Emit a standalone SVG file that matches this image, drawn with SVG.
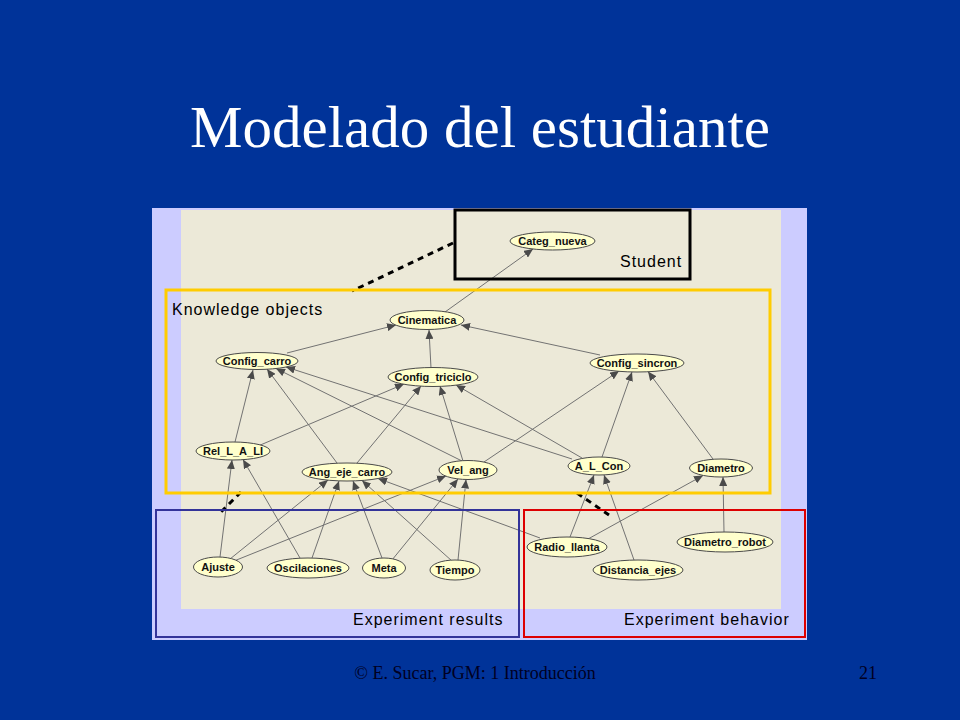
<svg xmlns="http://www.w3.org/2000/svg" width="960" height="720" viewBox="0 0 960 720">
<defs>
<style>
.title{font-family:"Liberation Serif","Times New Roman",serif;font-size:59px;fill:#ffffff}
.foot{font-family:"Liberation Serif","Times New Roman",serif;font-size:18px;fill:#000022}
.box{fill:none}
.blabel{font-family:"Liberation Sans",Arial,sans-serif;font-size:16px;letter-spacing:1px;fill:#000000}
.node ellipse{fill:#ffffcc;stroke:#4a4a4a;stroke-width:1}
.node text{font-family:"Liberation Sans",Arial,sans-serif;font-size:11px;font-weight:bold;fill:#111111;text-anchor:middle}
.edge{stroke:#727272;stroke-width:1;fill:none;marker-end:url(#arr)}
.dash{stroke:#000000;stroke-width:3;stroke-dasharray:6 5;fill:none}
</style>
<marker id="arr" markerUnits="userSpaceOnUse" markerWidth="10" markerHeight="8" refX="9" refY="4" orient="auto">
<path d="M0,0 L9,4 L0,8 z" fill="#4a4a4a"/>
</marker>
</defs>
<rect x="0" y="0" width="960" height="720" fill="#003399"/>
<text class="title" x="480" y="147" text-anchor="middle">Modelado del estudiante</text>
<g id="panel">
<rect x="152" y="208" width="655" height="432" fill="#ccccff"/>
<rect x="181" y="210" width="600" height="399" fill="#ece9d8"/>
</g>
<g id="connectors">
<line class="edge" x1="445" y1="312" x2="533" y2="249"/>
<line class="edge" x1="287" y1="353" x2="396" y2="325"/>
<line class="edge" x1="431" y1="368" x2="429" y2="330"/>
<line class="edge" x1="600" y1="355" x2="461" y2="325"/>
<line class="edge" x1="235" y1="442" x2="253" y2="370"/>
<line class="edge" x1="258" y1="446" x2="404" y2="384"/>
<line class="edge" x1="337" y1="463" x2="267" y2="369"/>
<line class="edge" x1="357" y1="463" x2="421" y2="386"/>
<line class="edge" x1="462" y1="461" x2="276" y2="368.5"/>
<line class="edge" x1="463" y1="461" x2="440" y2="386"/>
<line class="edge" x1="484" y1="462" x2="619" y2="371"/>
<line class="edge" x1="572" y1="459" x2="286" y2="367"/>
<line class="edge" x1="582" y1="458" x2="456" y2="385"/>
<line class="edge" x1="602" y1="457" x2="632" y2="372"/>
<line class="edge" x1="713" y1="459" x2="648" y2="371.5"/>
<line class="edge" x1="220" y1="557" x2="232" y2="460"/>
<line class="edge" x1="300" y1="558" x2="243" y2="459.5"/>
<line class="edge" x1="230" y1="559" x2="328" y2="480"/>
<line class="edge" x1="234" y1="561" x2="446" y2="476"/>
<line class="edge" x1="312" y1="558" x2="339" y2="481"/>
<line class="edge" x1="382" y1="558" x2="353" y2="481"/>
<line class="edge" x1="392" y1="560" x2="458" y2="479"/>
<line class="edge" x1="452" y1="561" x2="362" y2="480.5"/>
<line class="edge" x1="458" y1="560" x2="466" y2="479.5"/>
<line class="edge" x1="540" y1="538" x2="378" y2="478.5"/>
<line class="edge" x1="570" y1="537" x2="594" y2="475"/>
<line class="edge" x1="588" y1="539" x2="703" y2="475.5"/>
<line class="edge" x1="634" y1="560" x2="604" y2="475"/>
<line class="edge" x1="724" y1="532" x2="723" y2="477"/>
<line class="dash" x1="453" y1="243" x2="352" y2="291"/>
<line class="dash" x1="241" y1="492" x2="218" y2="515"/>
<line class="dash" x1="577" y1="493" x2="609" y2="515"/>
</g>
<g id="student-box">
<rect class="box" x="455" y="210" width="235" height="69" stroke="#000000" stroke-width="3"/>
<text class="blabel" x="620" y="267">Student</text>
</g>
<g id="knowledge-box">
<rect class="box" x="166" y="290" width="604" height="203" stroke="#ffcc00" stroke-width="3"/>
<text class="blabel" x="172" y="315">Knowledge objects</text>
</g>
<g id="results-box">
<rect class="box" x="156" y="510" width="363" height="127" stroke="#333399" stroke-width="2"/>
<text class="blabel" x="353" y="625">Experiment results</text>
</g>
<g id="behavior-box">
<rect class="box" x="524" y="510" width="281" height="127" stroke="#dd0000" stroke-width="2"/>
<text class="blabel" x="624" y="625">Experiment behavior</text>
</g>
<g id="n-categ_nueva" class="node"><ellipse cx="552.5" cy="241" rx="42.5" ry="9"/><text x="552.5" y="244.5">Categ_nueva</text></g>
<g id="n-cinematica" class="node"><ellipse cx="427" cy="320" rx="37" ry="9.5"/><text x="427" y="323.5">Cinematica</text></g>
<g id="n-config_carro" class="node"><ellipse cx="257" cy="361" rx="41" ry="8.5"/><text x="257" y="364.5">Config_carro</text></g>
<g id="n-config_triciclo" class="node"><ellipse cx="433" cy="377" rx="45" ry="9.5"/><text x="433" y="380.5">Config_triciclo</text></g>
<g id="n-config_sincron" class="node"><ellipse cx="637" cy="363" rx="47" ry="9"/><text x="637" y="366.5">Config_sincron</text></g>
<g id="n-rel_l_a_li" class="node"><ellipse cx="233" cy="451" rx="37" ry="9"/><text x="233" y="454.5">Rel_L_A_LI</text></g>
<g id="n-ang_eje_carro" class="node"><ellipse cx="347" cy="472" rx="45" ry="9"/><text x="347" y="475.5">Ang_eje_carro</text></g>
<g id="n-vel_ang" class="node"><ellipse cx="468" cy="470" rx="29" ry="9.5"/><text x="468" y="473.5">Vel_ang</text></g>
<g id="n-a_l_con" class="node"><ellipse cx="599" cy="466" rx="31" ry="9"/><text x="599" y="469.5">A_L_Con</text></g>
<g id="n-diametro" class="node"><ellipse cx="721" cy="468" rx="31.5" ry="9"/><text x="721" y="471.5">Diametro</text></g>
<g id="n-ajuste" class="node"><ellipse cx="218" cy="567" rx="24.5" ry="10"/><text x="218" y="570.5">Ajuste</text></g>
<g id="n-oscilaciones" class="node"><ellipse cx="308" cy="568" rx="41" ry="10"/><text x="308" y="571.5">Oscilaciones</text></g>
<g id="n-meta" class="node"><ellipse cx="384" cy="568" rx="21.5" ry="10"/><text x="384" y="571.5">Meta</text></g>
<g id="n-tiempo" class="node"><ellipse cx="455" cy="570" rx="25" ry="10"/><text x="455" y="573.5">Tiempo</text></g>
<g id="n-radio_llanta" class="node"><ellipse cx="567" cy="547" rx="40" ry="10"/><text x="567" y="550.5">Radio_llanta</text></g>
<g id="n-distancia_ejes" class="node"><ellipse cx="638" cy="570" rx="45" ry="10"/><text x="638" y="573.5">Distancia_ejes</text></g>
<g id="n-diametro_robot" class="node"><ellipse cx="725" cy="542" rx="48" ry="10"/><text x="725" y="545.5">Diametro_robot</text></g>
<text class="foot" x="475" y="679" text-anchor="middle">© E. Sucar, PGM: 1 Introducción</text>
<text class="foot" x="877" y="679" text-anchor="end">21</text>
</svg>
